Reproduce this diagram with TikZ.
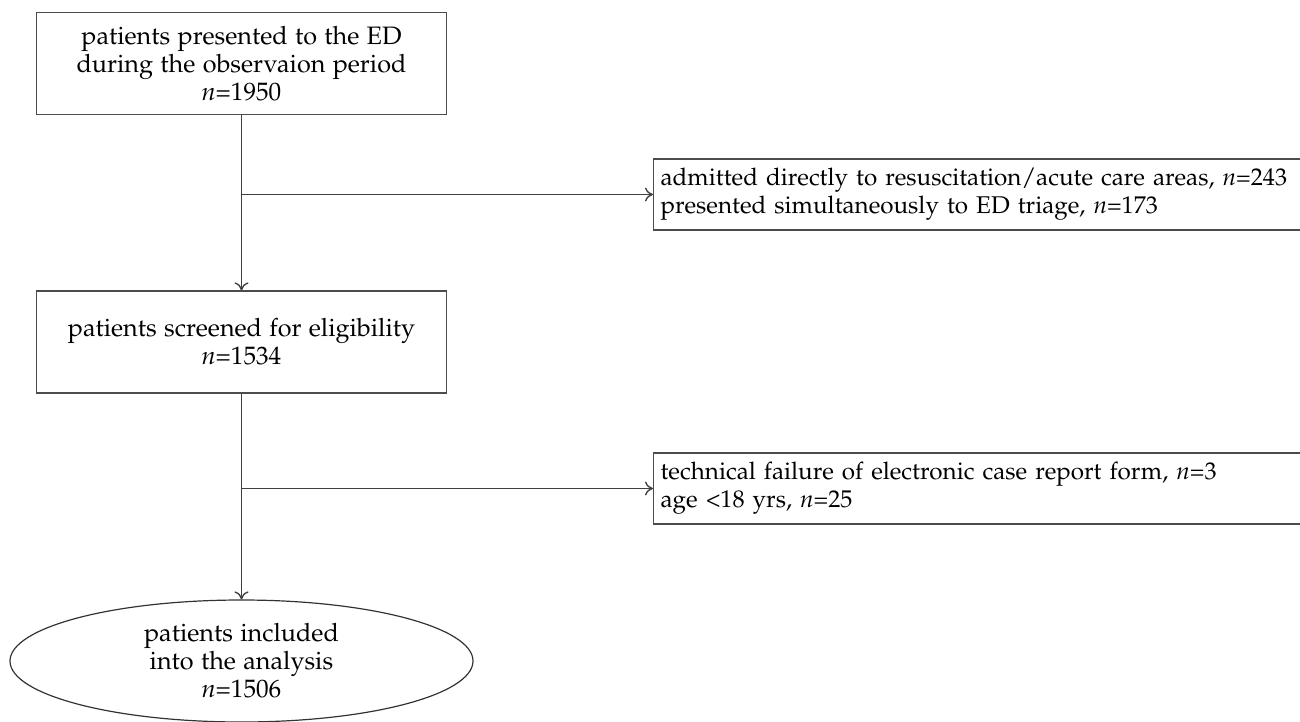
\documentclass[tikz,border=0pt]{standalone}
\usepackage[T1]{fontenc}
\usepackage{mathpazo}
\usetikzlibrary{shapes.geometric,arrows.meta}
\begin{document}
\begin{tikzpicture}[x=0.5pt,y=-0.5pt,
  every node/.style={font=\fontfamily{pplx}\fontsize{12.6}{14}\selectfont},
  mainbox/.style={draw=black!70,line width=0.6pt,minimum width=205pt,minimum height=51pt,align=center,inner sep=0pt},
  sidebox/.style={draw=black!70,line width=0.6pt,minimum height=35.5pt,align=left,anchor=west,text width=345pt,inner xsep=3.5pt,inner ysep=0pt,font=\fontfamily{pplx}\fontsize{12.1}{14}\selectfont},
  endell/.style={draw=black!80,line width=0.6pt,ellipse,minimum width=231.5pt,minimum height=61pt,align=center,inner sep=0pt},
  conn/.style={draw=black!75,line width=0.7pt,-{To[length=4pt,width=7pt]}}]
\useasboundingbox (0,0) rectangle (1300,722);
\node[mainbox] (b1) at (241.5,63.5) {patients presented to the ED\\during the observaion period\\\textit{n}=1950};
\node[mainbox] (b2) at (241.5,342) {patients screened for eligibility\\\textit{n}=1534};
\node[sidebox] (b3) at (653,194.5) {admitted directly to resuscitation/acute care areas, \textit{n}=243\\presented simultaneously to ED triage, \textit{n}=173};
\node[sidebox] (b4) at (653,488.5) {technical failure of electronic case report form, \textit{n}=3\\age {\textless}18 yrs, \textit{n}=25};
\node[endell] (e) at (241.5,661) {patients included\\into the analysis\\\textit{n}=1506};
\coordinate (j1) at (b1.south |- b3.west);
\coordinate (j2) at (b2.south |- b4.west);
\draw[conn] (b1.south) -- (b2.north);
\draw[conn] (j1) -- (b3.west);
\draw[conn] (b2.south) -- (e.north);
\draw[conn] (j2) -- (b4.west);
\end{tikzpicture}
\end{document}
